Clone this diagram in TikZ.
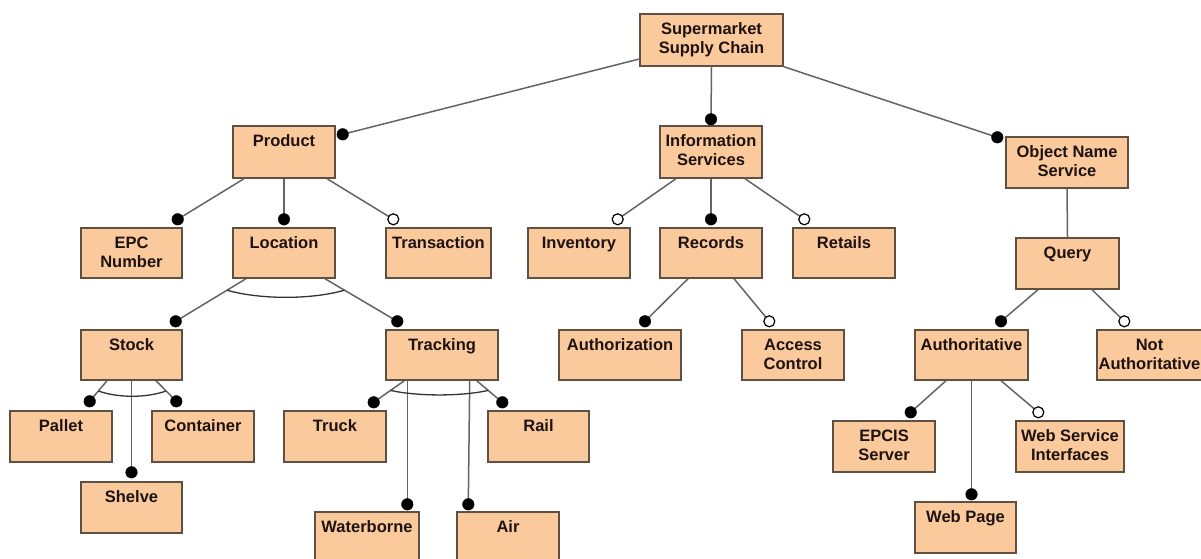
\documentclass[tikz,border=0pt]{standalone}
\usepackage{fontspec}
\setmainfont{Liberation Sans}
\usetikzlibrary{calc}
\definecolor{boxfill}{RGB}{250,202,156}
\definecolor{boxline}{RGB}{95,80,66}
\definecolor{connline}{RGB}{100,100,100}
\definecolor{txt}{RGB}{30,18,18}
% one-line label: baseline 21 below the top of the box
\newcommand\mkbox[6]{%
  \node[box, minimum width=#4pt, minimum height=#5pt] (#1) at (#2,#3) {};
  \node[lbl] (#1-t) at ($(#1.north)+(0,21)$) {#6};}
% two-line label: base anchor is the last line, so the offset is 21+19
\newcommand\mkboxii[6]{%
  \node[box, minimum width=#4pt, minimum height=#5pt] (#1) at (#2,#3) {};
  \node[lbl] (#1-t) at ($(#1.north)+(0,40)$) {#6};}
\newcommand\mandedge[2]{\draw[conn] #1 -- #2; \path[mand] #2 circle[radius=5.8pt];}
\newcommand\optedge[2]{\draw[conn] #1 -- #2; \path[opt] #2 circle[radius=5.5pt];}
\begin{document}
\begin{tikzpicture}[x=1pt,y=-1pt,
  box/.style={rectangle, draw=boxline, fill=boxfill, line width=1.4pt, inner sep=0pt},
  lbl/.style={font=\bfseries\fontsize{16.5}{19}\selectfont, text=txt, align=center, anchor=base, inner sep=0pt},
  conn/.style={draw=connline, line width=1.5pt},
  mand/.style={fill=black, draw=black, line width=0.4pt},
  opt/.style={fill=white, draw=black, line width=1.2pt},
  orarc/.style={draw=black!80, line width=1.3pt}]
\useasboundingbox (0,0) rectangle (1201,558);
\fill[white] (0,0) rectangle (1201,558);
% boxes
\mkboxii{sc}{711.5}{40}{143}{52}{Supermarket\\Supply Chain}
\mkbox{product}{284}{152}{102}{52}{Product}
\mkboxii{info}{711}{152}{102}{52}{Information\\Services}
\mkboxii{ons}{1067}{162.5}{122}{51}{Object Name\\Service}
\mkboxii{epc}{131.5}{253}{101}{50}{EPC\\Number}
\mkbox{location}{284}{253}{102}{50}{Location}
\mkbox{transaction}{438.5}{253}{105}{50}{Transaction}
\mkbox{inventory}{579}{253}{102}{50}{Inventory}
\mkbox{records}{711}{253}{102}{50}{Records}
\mkbox{retails}{844}{253}{102}{50}{Retails}
\mkbox{query}{1067.5}{263.5}{103}{51}{Query}
\mkbox{stock}{131.5}{355}{101}{50}{Stock}
\mkbox{tracking}{442}{355}{112}{50}{Tracking}
\mkbox{authorization}{620}{355}{122}{50}{Authorization}
\mkboxii{access}{793}{355}{102}{50}{Access\\Control}
\mkbox{authoritative}{971.5}{355}{113}{50}{Authoritative}
\mkboxii{notauth}{1149.5}{355}{105}{50}{Not\\Authoritative}
\mkbox{pallet}{61}{436.5}{102}{51}{Pallet}
\mkbox{container}{203}{436.5}{102}{51}{Container}
\mkbox{truck}{335}{436.5}{102}{51}{Truck}
\mkbox{rail}{538.5}{436.5}{101}{51}{Rail}
\mkboxii{epcis}{884}{446.5}{102}{51}{EPCIS\\Server}
\mkboxii{wsi}{1070}{446.5}{108}{51}{Web Service\\Interfaces}
\mkbox{shelve}{131.5}{507.5}{101}{51}{Shelve}
\mkbox{waterborne}{367}{537.5}{104}{51}{Waterborne}
\mkbox{air}{508}{537.5}{102}{51}{Air}
\mkbox{webpage}{965.5}{527.5}{101}{51}{Web Page}
% root
\mandedge{($(sc.west)+(0,19)$)}{($(product.north east)+(7,9)$)}
\mandedge{(sc.south)}{($(info.north)+(0,-6)$)}
\mandedge{(sc.south east)}{($(ons.north west)+(-8,1)$)}
% product
\mandedge{($(product.south)+(-40,0)$)}{($(epc.north east)+(-5,-8)$)}
\mandedge{(product.south)}{($(location.north)+(0,-8)$)}
\optedge{($(product.south)+(43,0)$)}{($(transaction.north west)+(8,-8)$)}
% information services
\optedge{($(info.south)+(-35,0)$)}{($(inventory.north east)+(-13,-8)$)}
\mandedge{(info.south)}{($(records.north)+(0,-8)$)}
\optedge{($(info.south)+(34,0)$)}{($(retails.north west)+(12,-8)$)}
% ONS
\draw[conn] (ons.south) -- (query.north);
% location (alternative)
\coordinate (locS) at ($(location.south)+(-38,0)$);
\coordinate (stockD) at ($(stock.north east)+(-7,-8)$);
\coordinate (locT) at ($(location.south)+(41,0)$);
\coordinate (trackD) at ($(tracking.north west)+(12,-8)$);
\mandedge{(locS)}{(stockD)}
\mandedge{(locT)}{(trackD)}
\draw[orarc] ($(locS)!0.27!(stockD)$) .. controls +(33,9.5) and +(-33,9.5) .. ($(locT)!0.27!(trackD)$);
% records
\mandedge{($(records.south)+(-23,0)$)}{($(authorization.north)+(25,-8)$)}
\optedge{($(records.south)+(23,0)$)}{($(access.north west)+(28,-8)$)}
% query
\mandedge{($(query.south)+(-29.5,0)$)}{($(authoritative.north)+(29.5,-8)$)}
\optedge{($(query.south)+(24.5,0)$)}{($(notauth.north west)+(28,-8)$)}
% stock
\coordinate (stP) at ($(stock.south)+(-24.5,0)$);
\coordinate (palD) at ($(pallet.north east)+(-23,-9)$);
\coordinate (stC) at ($(stock.south)+(24.5,0)$);
\coordinate (conD) at ($(container.north west)+(25,-9)$);
\mandedge{(stP)}{(palD)}
\mandedge{(stock.south)}{($(shelve.north)+(0,-9)$)}
\mandedge{(stC)}{(conD)}
\draw[orarc] ($(stP)!0.5!(palD)$) .. controls +(20,7) and +(-20,7) .. ($(stC)!0.5!(conD)$);
% tracking
\coordinate (trT) at ($(tracking.south west)+(19,0)$);
\coordinate (truD) at ($(truck.north east)+(-13,-8)$);
\coordinate (trR) at ($(tracking.south east)+(-22,0)$);
\coordinate (raiD) at ($(rail.north west)+(15,-8)$);
\mandedge{(trT)}{(truD)}
\mandedge{($(tracking.south west)+(22,0)$)}{($(waterborne.north west)+(93,-7)$)}
\mandedge{($(tracking.south east)+(-29,0)$)}{($(air.north west)+(12,-7)$)}
\mandedge{(trR)}{(raiD)}
\draw[orarc] ($(trT)!0.45!(truD)$) .. controls +(27,6) and +(-27,6) .. ($(trR)!0.45!(raiD)$);
% authoritative
\mandedge{($(authoritative.south)+(-25.5,0)$)}{($(epcis.north east)+(-25,-8)$)}
\mandedge{(authoritative.south)}{($(webpage.north)+(6,-7)$)}
\optedge{($(authoritative.south)+(29.5,0)$)}{($(wsi.north west)+(23,-8)$)}
\end{tikzpicture}
\end{document}
